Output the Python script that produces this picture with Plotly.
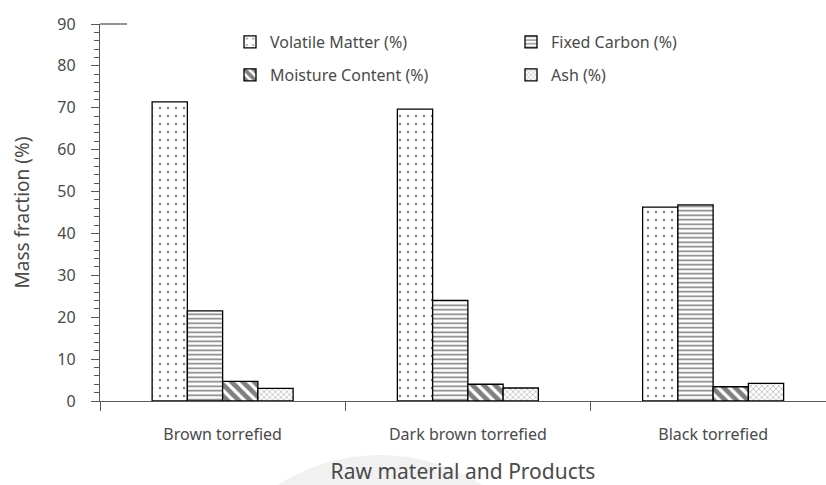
import plotly.graph_objects as go

# Proximate analysis of torrefied products
categories = ["Brown torrefied", "Dark brown torrefied", "Black torrefied"]
volatile_matter = [71.4, 69.7, 46.3]
fixed_carbon = [21.5, 24.0, 46.8]
moisture_content = [4.7, 4.0, 3.4]
ash = [3.0, 3.1, 4.2]
y_ticks = [0, 10, 20, 30, 40, 50, 60, 70, 80, 90]

W, H = 826, 485
L, R, T, B = 100, 0, 24, 84
FONT = "Noto Sans"
TEXT = "#4a4a4a"
AXIS = "#595959"

x_pos = list(range(len(categories)))

series = [
    ("Volatile Matter (%)", volatile_matter, dict(shape=".", size=8, solidity=0.08), "legend"),
    ("Fixed Carbon (%)", fixed_carbon, dict(shape="-", size=4.5, solidity=0.35), "legend"),
    ("Moisture Content (%)", moisture_content, dict(shape="\\", size=8, solidity=0.6), "legend2"),
    ("Ash (%)", ash, dict(shape="x", size=4, solidity=0.2), "legend2"),
]

fig = go.Figure()
for name, vals, pat, leg in series:
    fig.add_trace(go.Bar(
        x=x_pos, y=vals, name=name, legend=leg,
        marker=dict(color="white",
                    line=dict(color="black", width=1.3),
                    pattern=dict(fillmode="overlay", bgcolor="white",
                                 fgcolor="black", **pat)),
    ))

pw = W - L - R
ph = H - T - B


def px_x(px):
    return (px - L) / pw


def px_y(py):
    return (H - B - py) / ph


legend_style = dict(orientation="h", xref="paper", yref="paper",
                    xanchor="left", yanchor="middle", entrywidth=236,
                    bgcolor="rgba(0,0,0,0)", font=dict(size=16, color=TEXT),
                    itemclick=False, itemdoubleclick=False)

fig.update_layout(
    width=W, height=H,
    margin=dict(l=L, r=R, t=T, b=B, pad=0),
    paper_bgcolor="white", plot_bgcolor="white",
    barmode="group", bargap=0.425, bargroupgap=0,
    font=dict(family=FONT, color=TEXT, size=16),
    showlegend=True,
    legend=dict(x=px_x(230), y=px_y(42), **legend_style),
    legend2=dict(x=px_x(230), y=px_y(75), **legend_style),
    xaxis=dict(
        range=[-0.5, -0.5 + pw / 245.25],
        tickvals=x_pos, ticktext=categories,
        ticks="", showgrid=False, zeroline=False,
        showline=True, linecolor=AXIS, linewidth=1.3,
        tickfont=dict(size=16, color=TEXT),
        ticklabelstandoff=19,
        minor=dict(tick0=-0.5, dtick=1, ticks="outside", ticklen=9,
                   tickcolor=AXIS, tickwidth=1.3, showgrid=False),
        title=dict(text="Raw material and Products", font=dict(size=21, color=TEXT),
                   standoff=20),
    ),
    yaxis=dict(
        range=[0, 90], tickvals=y_ticks,
        ticks="outside", ticklen=8, tickcolor=AXIS, tickwidth=1.3,
        showgrid=False, zeroline=False,
        showline=True, linecolor=AXIS, linewidth=1.3,
        tickfont=dict(size=16, color=TEXT),
        ticklabelstandoff=12,
        minor=dict(dtick=2, ticks="outside", ticklen=5, tickcolor=AXIS,
                   tickwidth=1.3, showgrid=False),
        title=dict(text="Mass fraction (%)", font=dict(size=19, color=TEXT),
                   standoff=22),
    ),
    shapes=[
        # faint seal in the page background
        dict(type="circle", xref="paper", yref="paper", layer="below",
             x0=px_x(190), x1=px_x(570), y0=px_y(835), y1=px_y(455),
             fillcolor="#f1f1f1", line=dict(width=0)),
        # short cap line at the top of the value axis
        dict(type="line", xref="paper", yref="paper",
             x0=px_x(100), x1=px_x(127), y0=1, y1=1,
             line=dict(color=AXIS, width=1.3)),
    ],
)

fig.write_html("out.html")
